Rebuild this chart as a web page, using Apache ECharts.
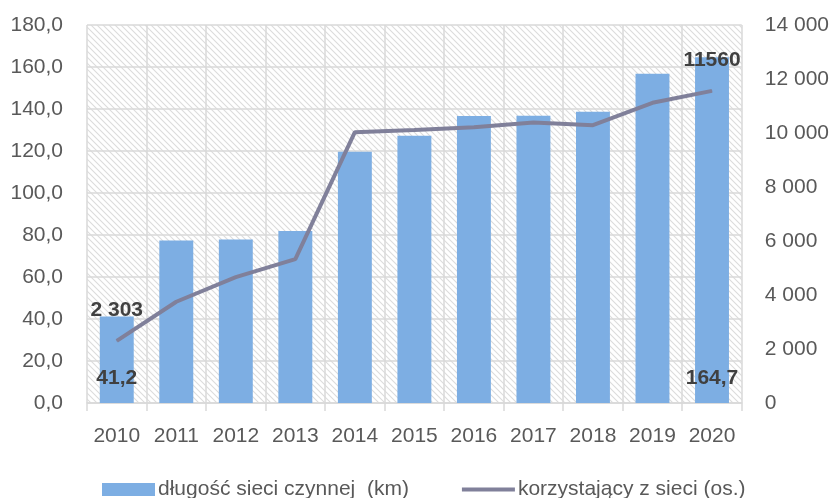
<!DOCTYPE html>
<html>
<head>
<meta charset="utf-8">
<script src="https://cdn.jsdelivr.net/npm/echarts@6/dist/echarts.min.js"></script>
<style>
html,body{margin:0;padding:0;background:#fff;}
#c{width:832px;height:498px;}
</style>
</head>
<body>
<div id="c"></div>
<script>
const categories = ['2010','2011','2012','2013','2014','2015','2016','2017','2018','2019','2020'];
const networkLength = [41.2, 77.4, 77.8, 81.9, 119.7, 127.3, 136.7, 136.8, 138.7, 156.8, 164.7];
const users = [2303, 3750, 4660, 5330, 10030, 10110, 10210, 10390, 10290, 11120, 11560];
const leftTicks = [0, 20, 40, 60, 80, 100, 120, 140, 160, 180];
const rightTicks = [0, 2000, 4000, 6000, 8000, 10000, 12000, 14000];
const userEndLabels = {0: '2 303', 10: '11560'};
const seriesNames = ['długość sieci czynnej  (km)', 'korzystający z sieci (os.)'];

function hatch() {
  const s = 6;
  const cv = document.createElement('canvas');
  cv.width = s; cv.height = s;
  const ctx = cv.getContext('2d');
  ctx.fillStyle = '#ffffff';
  ctx.fillRect(0, 0, s, s);
  ctx.strokeStyle = '#dcdcdc';
  ctx.lineWidth = 1.1;
  ctx.beginPath();
  ctx.moveTo(-1, -1); ctx.lineTo(s + 1, s + 1);
  ctx.moveTo(-1, s - 1); ctx.lineTo(1, s + 1);
  ctx.moveTo(s - 1, -1); ctx.lineTo(s + 1, 1);
  ctx.stroke();
  return cv;
}

const last = categories.length - 1;
const barData = networkLength.map((v, i) => (i === 0 || i === last) ? {value: v, label: {show: true}} : v);
const lineData = users.map((v, i) => (i === 0 || i === last) ? {value: v, label: {show: true}} : v);

const gridColor = '#d9d9d9';
const txt = '#595959';
const lineColor = '#80809A';
const fontNum = 'Liberation Sans, Arial, sans-serif';

const chart = echarts.init(document.getElementById('c'));
chart.setOption({
  animation: false,
  backgroundColor: '#ffffff',
  grid: {
    left: 87, right: 90, top: 25, bottom: 95,
    show: true,
    backgroundColor: {image: hatch(), repeat: 'repeat'},
    borderWidth: 0
  },
  legend: {
    left: 97, top: 474,
    itemWidth: 53, itemHeight: 13, itemGap: 53,
    textStyle: {color: txt, fontSize: 21, fontFamily: fontNum, padding: [0, 0, 0, -2]},
    data: [
      {name: seriesNames[0], icon: 'rect'},
      {name: seriesNames[1], icon: 'path://M0,0 L53,0 L53,4 L0,4 Z', itemStyle: {color: lineColor}}
    ]
  },
  xAxis: {
    type: 'category',
    data: categories,
    boundaryGap: true,
    axisLine: {show: true, lineStyle: {color: gridColor, width: 1.5}},
    axisTick: {show: true, length: 8, interval: 0, lineStyle: {color: gridColor, width: 1.5}},
    splitLine: {show: true, interval: 0, lineStyle: {color: gridColor, width: 1.5}},
    axisLabel: {color: txt, fontSize: 21, fontFamily: fontNum, margin: 23, interval: 0}
  },
  yAxis: [
    {
      type: 'value', min: leftTicks[0], max: leftTicks[leftTicks.length - 1], interval: 20,
      axisLine: {show: false}, axisTick: {show: false},
      splitLine: {show: true, lineStyle: {color: gridColor, width: 1.5}},
      axisLabel: {color: txt, fontSize: 21, fontFamily: fontNum, margin: 24,
        formatter: v => v.toFixed(1).replace('.', ',')}
    },
    {
      type: 'value', min: rightTicks[0], max: rightTicks[rightTicks.length - 1], interval: 2000,
      axisLine: {show: false}, axisTick: {show: false},
      splitLine: {show: false},
      axisLabel: {color: txt, fontSize: 21, fontFamily: fontNum, margin: 23,
        formatter: v => String(v).replace(/\B(?=(\d{3})+(?!\d))/g, ' ')}
    }
  ],
  series: [
    {
      name: seriesNames[0],
      type: 'bar',
      yAxisIndex: 0,
      data: barData,
      barWidth: '57%',
      itemStyle: {color: '#7DAEE3'},
      label: {show: false, position: 'insideBottom', distance: 14,
        color: '#404040', fontWeight: 'bold', fontSize: 21, fontFamily: fontNum,
        formatter: p => p.value.toFixed(1).replace('.', ',')}
    },
    {
      name: seriesNames[1],
      type: 'line',
      yAxisIndex: 1,
      data: lineData,
      symbol: 'circle',
      symbolSize: 1,
      showSymbol: true,
      lineStyle: {color: lineColor, width: 4},
      itemStyle: {color: lineColor},
      label: {show: false, position: 'top', distance: 20,
        color: '#404040', fontWeight: 'bold', fontSize: 21, fontFamily: fontNum,
        formatter: p => userEndLabels[p.dataIndex]}
    }
  ]
});
</script>
</body>
</html>
